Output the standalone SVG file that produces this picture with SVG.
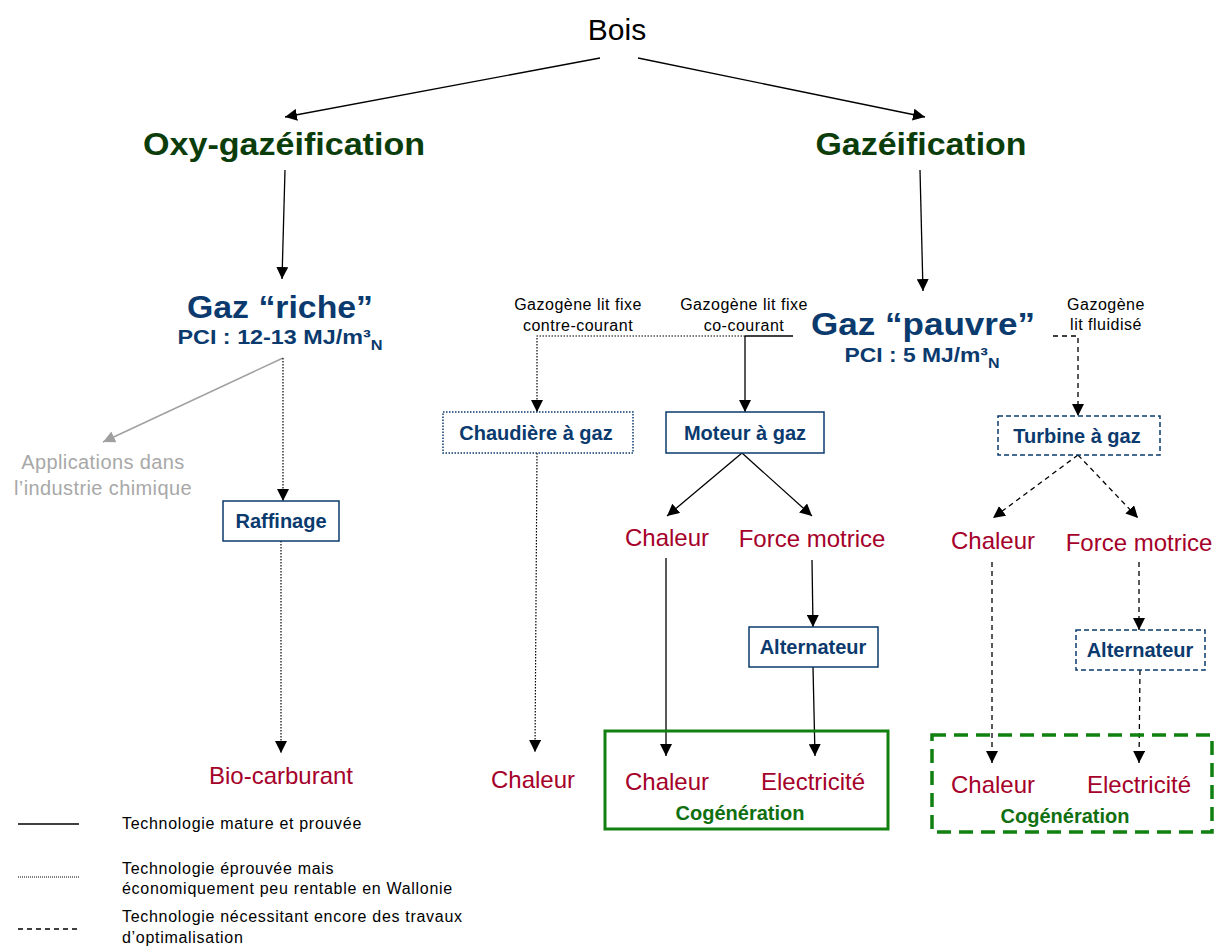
<svg xmlns="http://www.w3.org/2000/svg" width="1214" height="948" viewBox="0 0 1214 948">
<defs>
<marker id="ah" markerWidth="12" markerHeight="12" refX="12" refY="6" orient="auto" markerUnits="userSpaceOnUse"><path d="M0,0 L12,6 L0,12 Z" fill="#000"/></marker>
<marker id="ahg" markerWidth="12" markerHeight="12" refX="12" refY="6" orient="auto" markerUnits="userSpaceOnUse"><path d="M0,0 L12,6 L0,12 Z" fill="#a0a0a0"/></marker>
<style>
text{font-family:"Liberation Sans","DejaVu Sans",sans-serif;text-anchor:middle}
.top{font-size:30px;fill:#000}
.h1{font-size:32px;font-weight:bold;fill:#0b3d0b}
.h2{font-size:32px;font-weight:bold;fill:#0b3a6e}
.pci{font-size:20px;font-weight:bold;fill:#0b3a6e}
.bx{font-size:20px;font-weight:bold;fill:#0b3a6e}
.red{font-size:24px;fill:#a5002a}
.cog{font-size:20px;fill:#107010;font-weight:bold}
.sm{font-size:16px;fill:#000;letter-spacing:0.5px}
.gray{font-size:20px;fill:#a8a8a8;letter-spacing:0.4px}
.leg{font-size:16px;fill:#000;text-anchor:start;letter-spacing:0.7px}
.box{fill:#fff;stroke:#0b3a6e;stroke-width:1.5}
.solid{stroke:#000;stroke-width:1.3;fill:none}
.dot{stroke:#000;stroke-width:1.2;stroke-dasharray:1.5,1.5;fill:none}
.dash{stroke:#000;stroke-width:1.3;stroke-dasharray:5,4;fill:none}
</style>
</defs>
<g id="connectors">
<line class="solid" x1="600" y1="58" x2="285" y2="117" marker-end="url(#ah)"/>
<line class="solid" x1="638" y1="58" x2="925" y2="117" marker-end="url(#ah)"/>
<line class="solid" x1="285" y1="170" x2="282" y2="279" marker-end="url(#ah)"/>
<line class="solid" x1="920" y1="170" x2="923" y2="291" marker-end="url(#ah)"/>
<line x1="283" y1="358" x2="103" y2="442" stroke="#a0a0a0" stroke-width="1.5" marker-end="url(#ahg)"/>
<line class="dot" x1="283" y1="358" x2="283" y2="501" marker-end="url(#ah)"/>
<line class="dot" x1="281" y1="541" x2="281" y2="753" marker-end="url(#ah)"/>
<polyline class="dot" points="745,336 537,336 537,412" marker-end="url(#ah)"/>
<line class="solid" x1="745" y1="336" x2="793" y2="336"/>
<line class="solid" x1="745" y1="336" x2="745" y2="412" marker-end="url(#ah)"/>
<polyline class="dash" points="1053,336 1078,336 1078,416" marker-end="url(#ah)"/>
<line class="dot" x1="537" y1="453" x2="535" y2="752" marker-end="url(#ah)"/>
<line class="solid" x1="742" y1="453" x2="667" y2="516" marker-end="url(#ah)"/>
<line class="solid" x1="742" y1="453" x2="812" y2="516" marker-end="url(#ah)"/>
<line class="solid" x1="666" y1="558" x2="666" y2="756" marker-end="url(#ah)"/>
<line class="solid" x1="812" y1="560" x2="813" y2="627" marker-end="url(#ah)"/>
<line class="solid" x1="813" y1="667" x2="815" y2="756" marker-end="url(#ah)"/>
<line class="dash" x1="1078" y1="455" x2="993" y2="518" marker-end="url(#ah)"/>
<line class="dash" x1="1078" y1="455" x2="1138" y2="518" marker-end="url(#ah)"/>
<line class="dash" x1="992" y1="562" x2="992" y2="763" marker-end="url(#ah)"/>
<line class="dash" x1="1139" y1="562" x2="1139" y2="630" marker-end="url(#ah)"/>
<line class="dash" x1="1140" y1="670" x2="1139" y2="763" marker-end="url(#ah)"/>
</g>
<g id="bois"><text class="top" x="617" y="40">Bois</text></g>
<g id="oxy"><text class="h1" x="284" y="155" textLength="282" lengthAdjust="spacingAndGlyphs">Oxy-gazéification</text></g>
<g id="gazeif"><text class="h1" x="921" y="155" textLength="211" lengthAdjust="spacingAndGlyphs">Gazéification</text></g>
<g id="gazriche">
<text class="h2" x="280" y="318" textLength="186" lengthAdjust="spacingAndGlyphs">Gaz “riche”</text>
<text class="pci" x="280" y="344" textLength="205" lengthAdjust="spacingAndGlyphs">PCI : 12-13 MJ/m³<tspan font-size="14" dy="6">N</tspan></text>
</g>
<g id="gazpauvre">
<text class="h2" x="923" y="335" textLength="224" lengthAdjust="spacingAndGlyphs">Gaz “pauvre”</text>
<text class="pci" x="922" y="362" textLength="155" lengthAdjust="spacingAndGlyphs">PCI : 5 MJ/m³<tspan font-size="14" dy="6">N</tspan></text>
</g>
<g id="lbl-contre"><text class="sm" x="578" y="310">Gazogène lit fixe</text><text class="sm" x="578" y="331">contre-courant</text></g>
<g id="lbl-co"><text class="sm" x="744" y="310">Gazogène lit fixe</text><text class="sm" x="744" y="331">co-courant</text></g>
<g id="lbl-flu"><text class="sm" x="1106" y="310">Gazogène</text><text class="sm" x="1106" y="330">lit fluidisé</text></g>
<g id="applications"><text class="gray" x="103" y="469">Applications dans</text><text class="gray" x="103" y="495">l’industrie chimique</text></g>
<g id="raffinage"><rect class="box" x="223" y="501" width="116" height="40"/><text class="bx" x="281" y="528">Raffinage</text></g>
<g id="biocarburant"><text class="red" x="281" y="784">Bio-carburant</text></g>
<g id="chaudiere"><rect class="box" x="443" y="412" width="190" height="41" stroke-dasharray="1.5,1.5" stroke-width="1.2"/><text class="bx" x="536" y="440">Chaudière à gaz</text></g>
<g id="chaleur-chaud"><text class="red" x="533" y="788">Chaleur</text></g>
<g id="moteur"><rect class="box" x="666" y="412" width="158" height="41"/><text class="bx" x="745" y="440">Moteur à gaz</text></g>
<g id="turbine"><rect class="box" x="998" y="416" width="162" height="39" stroke-dasharray="5,3"/><text class="bx" x="1077" y="443">Turbine à gaz</text></g>
<g id="chaleur1"><text class="red" x="667" y="546">Chaleur</text></g>
<g id="force1"><text class="red" x="812" y="547">Force motrice</text></g>
<g id="alt1"><rect class="box" x="749" y="627" width="129" height="40"/><text class="bx" x="813" y="654">Alternateur</text></g>
<g id="chaleur2"><text class="red" x="993" y="549">Chaleur</text></g>
<g id="force2"><text class="red" x="1139" y="551">Force motrice</text></g>
<g id="alt2"><rect class="box" x="1076" y="630" width="129" height="40" stroke-dasharray="5,3"/><text class="bx" x="1140" y="657">Alternateur</text></g>
<g id="cogen1">
<rect x="605" y="731" width="283" height="98" fill="none" stroke="#108010" stroke-width="3"/>
<text class="red" x="667" y="790">Chaleur</text>
<text class="red" x="813" y="790">Electricité</text>
<text class="cog" x="740" y="820">Cogénération</text>
</g>
<g id="cogen2">
<rect x="932" y="735" width="280" height="97" fill="none" stroke="#108010" stroke-width="3.5" stroke-dasharray="14,8"/>
<text class="red" x="993" y="793">Chaleur</text>
<text class="red" x="1139" y="793">Electricité</text>
<text class="cog" x="1065" y="823">Cogénération</text>
</g>
<g id="legend">
<line x1="18" y1="824" x2="79" y2="824" stroke="#000" stroke-width="1.3"/>
<text class="leg" x="122" y="829">Technologie mature et prouvée</text>
<line x1="18" y1="877" x2="79" y2="877" stroke="#000" stroke-width="1" stroke-dasharray="1,1"/>
<text class="leg" x="122" y="874">Technologie éprouvée mais</text>
<text class="leg" x="122" y="894">économiquement peu rentable en Wallonie</text>
<line x1="18" y1="929" x2="79" y2="929" stroke="#000" stroke-width="1.3" stroke-dasharray="5,4"/>
<text class="leg" x="122" y="922">Technologie nécessitant encore des travaux</text>
<text class="leg" x="122" y="943">d’optimalisation</text>
</g>
</svg>
